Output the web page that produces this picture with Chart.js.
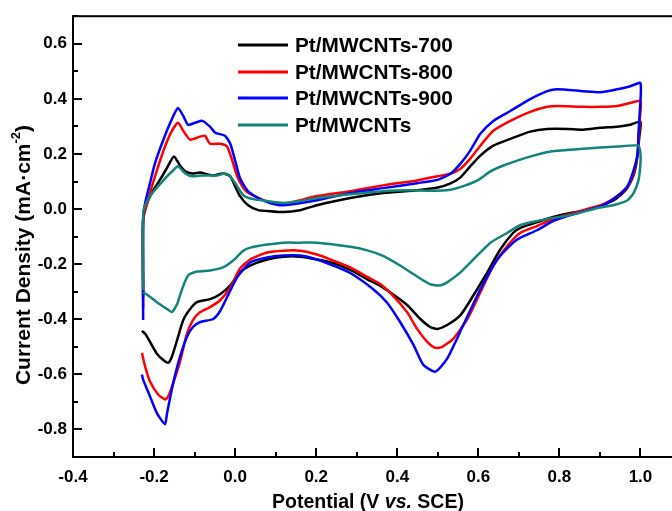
<!DOCTYPE html>
<html>
<head>
<meta charset="utf-8">
<script src="https://cdn.jsdelivr.net/npm/chart.js@4.4.0/dist/chart.umd.min.js"></script>
<style>
  html, body { margin: 0; padding: 0; background: #fff; overflow: hidden; }
  #wrap { position: relative; width: 681px; height: 511px; }
</style>
</head>
<body>
<div id="wrap"><canvas id="cvChart" width="681" height="511"></canvas></div>
<script>
// potential (V vs. SCE), current density (mA/cm2)
const cv700 = [
  [-0.227,-0.320],[-0.227,-0.040],[-0.217,0.022],[-0.202,0.068],[-0.180,0.119],[-0.165,0.158],[-0.151,0.191],
  [-0.136,0.158],[-0.123,0.137],[-0.106,0.129],[-0.086,0.133],[-0.069,0.126],[-0.054,0.122],[-0.030,0.129],
  [-0.012,0.119],[0.000,0.083],[0.012,0.047],[0.032,0.014],[0.057,-0.004],[0.079,-0.007],[0.119,-0.011],
  [0.160,-0.004],[0.202,0.014],[0.284,0.040],[0.365,0.058],[0.449,0.068],[0.500,0.078],[0.530,0.092],
  [0.556,0.115],[0.580,0.155],[0.605,0.194],[0.637,0.230],[0.679,0.255],[0.728,0.281],[0.770,0.291],[0.820,0.291],
  [0.859,0.288],[0.901,0.295],[0.943,0.299],[0.975,0.306],[1.000,0.317],
  [0.997,0.260],[0.993,0.200],[0.988,0.150],[0.980,0.112],[0.963,0.068],[0.938,0.036],[0.901,0.011],
  [0.869,-0.004],[0.827,-0.014],[0.785,-0.029],[0.746,-0.047],[0.704,-0.068],[0.686,-0.086],[0.654,-0.147],
  [0.622,-0.230],[0.588,-0.313],[0.556,-0.385],[0.523,-0.421],[0.499,-0.435],[0.481,-0.428],[0.457,-0.399],
  [0.425,-0.349],[0.390,-0.310],[0.358,-0.279],[0.326,-0.255],[0.284,-0.221],[0.242,-0.196],[0.202,-0.183],
  [0.160,-0.173],[0.119,-0.173],[0.079,-0.183],[0.037,-0.205],[0.012,-0.230],[-0.012,-0.277],[-0.037,-0.309],
  [-0.062,-0.327],[-0.094,-0.338],[-0.111,-0.363],[-0.128,-0.403],[-0.143,-0.475],[-0.156,-0.536],
  [-0.165,-0.558],[-0.178,-0.547],[-0.193,-0.525],[-0.210,-0.482],[-0.222,-0.453],[-0.230,-0.442]
]
const cv800 = [
  [-0.227,-0.360],[-0.227,-0.040],[-0.210,0.058],[-0.193,0.140],[-0.173,0.227],[-0.156,0.284],[-0.141,0.313],
  [-0.128,0.284],[-0.111,0.252],[-0.086,0.263],[-0.074,0.266],[-0.062,0.237],[-0.037,0.237],[-0.020,0.227],
  [-0.007,0.176],[0.005,0.119],[0.025,0.068],[0.054,0.042],[0.086,0.024],[0.119,0.018],[0.202,0.047],
  [0.284,0.065],[0.365,0.086],[0.449,0.104],[0.499,0.119],[0.531,0.128],[0.556,0.146],[0.580,0.183],
  [0.605,0.230],[0.637,0.284],[0.679,0.320],[0.728,0.353],[0.770,0.371],[0.795,0.374],[0.859,0.371],
  [0.901,0.371],[0.943,0.374],[0.975,0.385],[1.000,0.392],
  [0.998,0.320],[0.996,0.260],[0.993,0.201],[0.985,0.140],[0.970,0.086],[0.946,0.050],[0.909,0.018],
  [0.869,0.000],[0.827,-0.018],[0.785,-0.036],[0.746,-0.061],[0.704,-0.086],[0.672,-0.133],[0.637,-0.205],
  [0.605,-0.302],[0.573,-0.399],[0.538,-0.471],[0.511,-0.500],[0.494,-0.504],[0.474,-0.482],[0.449,-0.435],
  [0.425,-0.376],[0.390,-0.315],[0.358,-0.272],[0.326,-0.246],[0.284,-0.212],[0.242,-0.187],[0.202,-0.165],
  [0.160,-0.151],[0.119,-0.151],[0.079,-0.158],[0.037,-0.183],[0.012,-0.216],[-0.012,-0.284],[-0.037,-0.331],
  [-0.062,-0.356],[-0.086,-0.374],[-0.104,-0.403],[-0.119,-0.453],[-0.136,-0.554],[-0.153,-0.633],
  [-0.165,-0.680],[-0.173,-0.691],[-0.190,-0.673],[-0.210,-0.626],[-0.222,-0.572],[-0.230,-0.522]
]
const cv900 = [
  [-0.227,-0.403],[-0.227,-0.194],[-0.227,-0.032],[-0.222,0.022],[-0.210,0.094],[-0.198,0.165],[-0.178,0.248],
  [-0.156,0.327],[-0.141,0.367],[-0.128,0.338],[-0.116,0.306],[-0.099,0.313],[-0.081,0.320],[-0.062,0.299],
  [-0.049,0.277],[-0.025,0.266],[-0.012,0.237],[0.000,0.176],[0.012,0.112],[0.030,0.068],[0.057,0.040],
  [0.086,0.022],[0.119,0.014],[0.202,0.032],[0.284,0.058],[0.365,0.076],[0.449,0.094],[0.499,0.106],
  [0.531,0.128],[0.556,0.165],[0.580,0.212],[0.605,0.273],[0.637,0.320],[0.679,0.356],[0.728,0.399],
  [0.770,0.428],[0.795,0.435],[0.859,0.428],[0.901,0.424],[0.943,0.435],[0.975,0.446],[1.000,0.457],
  [0.998,0.345],[0.995,0.273],[0.993,0.201],[0.983,0.140],[0.968,0.083],[0.943,0.047],[0.909,0.014],
  [0.869,-0.004],[0.827,-0.022],[0.785,-0.043],[0.746,-0.076],[0.704,-0.104],[0.686,-0.122],[0.647,-0.183],
  [0.605,-0.291],[0.563,-0.421],[0.523,-0.543],[0.494,-0.590],[0.464,-0.565],[0.440,-0.493],[0.407,-0.410],
  [0.375,-0.340],[0.340,-0.290],[0.284,-0.232],[0.242,-0.205],[0.202,-0.183],[0.160,-0.169],[0.119,-0.169],
  [0.079,-0.176],[0.037,-0.194],[0.005,-0.248],[-0.020,-0.320],[-0.037,-0.370],[-0.054,-0.399],
  [-0.086,-0.410],[-0.104,-0.428],[-0.119,-0.464],[-0.136,-0.536],[-0.153,-0.633],[-0.168,-0.741],
  [-0.173,-0.781],[-0.193,-0.741],[-0.210,-0.680],[-0.227,-0.619],[-0.230,-0.601]
]
const cvBare = [
  [-0.227,-0.295],[-0.227,-0.050],[-0.225,0.000],[-0.210,0.047],[-0.190,0.083],[-0.168,0.119],[-0.153,0.140],
  [-0.141,0.155],[-0.123,0.129],[-0.106,0.119],[-0.081,0.122],[-0.062,0.122],[-0.044,0.122],[-0.025,0.129],
  [-0.012,0.119],[0.005,0.083],[0.020,0.050],[0.044,0.036],[0.079,0.029],[0.119,0.022],[0.160,0.029],
  [0.202,0.040],[0.284,0.054],[0.365,0.065],[0.432,0.068],[0.481,0.066],[0.531,0.070],[0.563,0.083],
  [0.598,0.104],[0.630,0.137],[0.662,0.158],[0.696,0.176],[0.736,0.194],[0.778,0.209],[0.859,0.219],
  [0.943,0.227],[0.995,0.230],
  [1.000,0.200],[1.000,0.165],[0.995,0.104],[0.983,0.058],[0.968,0.032],[0.933,0.014],[0.894,0.004],
  [0.827,-0.022],[0.785,-0.032],[0.746,-0.043],[0.704,-0.058],[0.672,-0.086],[0.630,-0.122],[0.588,-0.183],
  [0.556,-0.230],[0.523,-0.266],[0.506,-0.277],[0.481,-0.273],[0.449,-0.245],[0.407,-0.205],[0.365,-0.170],
  [0.326,-0.150],[0.284,-0.137],[0.202,-0.122],[0.160,-0.122],[0.119,-0.122],[0.079,-0.129],[0.037,-0.140],
  [0.020,-0.151],[-0.005,-0.187],[-0.030,-0.212],[-0.062,-0.223],[-0.094,-0.227],[-0.116,-0.241],
  [-0.131,-0.291],[-0.143,-0.345],[-0.156,-0.374],[-0.168,-0.363],[-0.193,-0.338],[-0.215,-0.313],[-0.227,-0.302]
]

const seriesNames = ["Pt/MWCNTs-700", "Pt/MWCNTs-800", "Pt/MWCNTs-900", "Pt/MWCNTs"]
const seriesColors = ["#000000", "#ff0000", "#0000ff", "#14847a"]
const seriesData = [cv700, cv800, cv900, cvBare]
const drawOrder = [3, 2, 1, 0] // teal on top, black at the bottom

const xTicks = [-0.4, -0.2, 0.0, 0.2, 0.4, 0.6, 0.8, 1.0]
const yTicks = [-0.8, -0.6, -0.4, -0.2, 0.0, 0.2, 0.4, 0.6]

const FONT = '"Liberation Sans", Arial, Helvetica, sans-serif'

// box, inward ticks (major + minor)
const framePlugin = {
  id: "frame",
  afterDatasetsDraw(chart) {
    const { ctx, chartArea: a, scales } = chart
    const sx = scales.x, sy = scales.y
    ctx.save()
    ctx.strokeStyle = "#000"
    ctx.lineWidth = 2
    ctx.strokeRect(a.left, a.top, a.right - a.left, a.bottom - a.top)

    ctx.beginPath()
    xTicks.forEach((v) => {
      const px = Math.round(sx.getPixelForValue(v))
      ctx.moveTo(px, a.bottom); ctx.lineTo(px, a.bottom - 9)
      const pm = Math.round(sx.getPixelForValue(v + 0.1))
      ctx.moveTo(pm, a.bottom); ctx.lineTo(pm, a.bottom - 5)
    })
    yTicks.forEach((v) => {
      const py = Math.round(sy.getPixelForValue(v))
      ctx.moveTo(a.left, py); ctx.lineTo(a.left + 9, py)
      const pm = Math.round(sy.getPixelForValue(v + 0.1))
      ctx.moveTo(a.left, pm); ctx.lineTo(a.left + 5, pm)
    })
    ctx.stroke()
    ctx.restore()
  },
}

// axis titles + legend drawn by hand (mixed italic / superscript)
const textPlugin = {
  id: "texts",
  afterDraw(chart) {
    const ctx = chart.ctx
    ctx.save()
    ctx.fillStyle = "#000"
    ctx.textBaseline = "alphabetic"

    // x title: Potential (V vs. SCE)
    const parts = [
      ["Potential (V ", "bold 19.5px " + FONT],
      ["vs.", "italic bold 19.5px " + FONT],
      [" SCE)", "bold 19.5px " + FONT],
    ]
    let total = 0
    parts.forEach((p) => { ctx.font = p[1]; total += ctx.measureText(p[0]).width })
    let tx = 368 - total / 2
    parts.forEach((p) => {
      ctx.font = p[1]
      ctx.fillText(p[0], tx, 508)
      tx += ctx.measureText(p[0]).width
    })

    // y title: Current Density (mA·cm-2)
    ctx.save()
    ctx.translate(30, 255)
    ctx.rotate(-Math.PI / 2)
    const main = "Current Density (mA\u00b7cm"
    ctx.font = "bold 21px " + FONT
    const w1 = ctx.measureText(main).width
    const w3 = ctx.measureText(")").width
    ctx.font = "bold 13px " + FONT
    const w2 = ctx.measureText("-2").width
    let ry = -(w1 + w2 + w3) / 2
    ctx.font = "bold 21px " + FONT
    ctx.fillText(main, ry, 0)
    ry += w1
    ctx.font = "bold 13px " + FONT
    ctx.fillText("-2", ry, -10)
    ry += w2
    ctx.font = "bold 21px " + FONT
    ctx.fillText(")", ry, 0)
    ctx.restore()

    // legend
    const rows = [45, 72, 98, 125]
    ctx.textBaseline = "middle"
    ctx.font = "bold 20.8px " + FONT
    seriesNames.forEach((name, i) => {
      ctx.strokeStyle = seriesColors[i]
      ctx.lineWidth = 3
      ctx.beginPath()
      ctx.moveTo(238, rows[i]); ctx.lineTo(288, rows[i])
      ctx.stroke()
      ctx.fillText(name, 295, rows[i] + 1)
    })
    ctx.restore()
  },
}

const datasets = seriesData.map((pts, i) => ({
  label: seriesNames[i],
  data: pts.map((p) => ({ x: p[0], y: p[1] })),
  showLine: true,
  borderColor: seriesColors[i],
  backgroundColor: seriesColors[i],
  borderWidth: 2.5,
  pointRadius: 0,
  tension: 0.2,
  fill: false,
  order: drawOrder[i],
}))

const tickFont = { family: FONT, size: 17, weight: "bold" }

new Chart(document.getElementById("cvChart").getContext("2d"), {
  type: "scatter",
  data: { datasets },
  options: {
    responsive: false,
    animation: false,
    layout: { padding: { top: 12, right: 0, bottom: 0, left: 0 } },
    plugins: { legend: { display: false }, tooltip: { enabled: false } },
    scales: {
      x: {
        type: "linear",
        min: -0.4,
        max: 1.1,
        grid: { display: false, drawTicks: false },
        border: { display: false },
        afterBuildTicks: (s) => { s.ticks = xTicks.map((v) => ({ value: v })) },
        afterFit: (s) => { s.height = 54 },
        ticks: { padding: 10, color: "#000", font: tickFont, callback: (v) => Number(v).toFixed(1) },
      },
      y: {
        type: "linear",
        min: -0.9,
        max: 0.7,
        grid: { display: false, drawTicks: false },
        border: { display: false },
        afterBuildTicks: (s) => { s.ticks = yTicks.map((v) => ({ value: v })) },
        afterFit: (s) => { s.width = 73 },
        ticks: { padding: 6, color: "#000", font: tickFont, callback: (v) => Number(v).toFixed(1) },
      },
    },
  },
  plugins: [framePlugin, textPlugin],
})
</script>
</body>
</html>
